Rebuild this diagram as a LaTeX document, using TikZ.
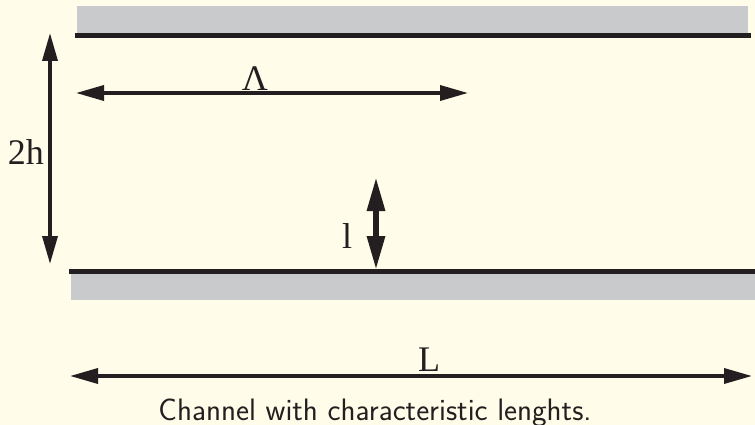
\documentclass[tikz,border=0pt]{standalone}
\usepackage{fontspec}
\newfontfamily\tms{Liberation Serif}
\usetikzlibrary{arrows.meta}
\definecolor{bg}{HTML}{FFFCE9}
\definecolor{bargray}{HTML}{C8CACC}
\definecolor{ink}{HTML}{231F20}
\tikzset{
  dimline/.style={draw=ink, line width=3.5pt, {Triangle[length=28pt,width=15pt]}-{Triangle[length=28pt,width=15pt]}},
  dimthick/.style={draw=ink, line width=6pt, {Triangle[length=34pt,width=17pt]}-{Triangle[length=34pt,width=17pt]}},
  wallfill/.style={fill=bargray, draw=none},
  wallline/.style={draw=ink, line width=5pt},
  lbltxt/.style={font=\tms\fontsize{36}{36}\selectfont, text=ink, inner sep=0pt},
  captxt/.style={font=\sffamily\fontsize{31}{31}\selectfont, text=ink, inner sep=0pt}
}
\begin{document}
\begin{tikzpicture}[x=1pt,y=-1pt]
\fill[bg] (0,0) rectangle (755,425);
\useasboundingbox (0,0) rectangle (755,425);
% walls
\path[wallfill] (77,6) rectangle (748,33);
\path[wallfill] (71,274) rectangle (755,300);
\coordinate (t1) at (75,35.5); \coordinate (t2) at (751,35.5);
\coordinate (b1) at (69,271.5); \coordinate (b2) at (755,271.5);
\draw[wallline] (t1) -- (t2);
\draw[wallline] (b1) -- (b2);
% 2h arrow
\coordinate (h1) at (50,33); \coordinate (h2) at (50,264);
\draw[dimline] (h1) -- (h2);
\node[lbltxt] (lh) at (26,152) {2h};
% Lambda arrow
\coordinate (a1) at (76,93); \coordinate (a2) at (468,93);
\draw[dimline] (a1) -- (a2);
\node[lbltxt, anchor=base] (la) at (255,91) {Λ};
% l arrow
\coordinate (s1) at (376,177); \coordinate (s2) at (376,270);
\draw[dimthick] (s1) -- (s2);
\node[lbltxt] (ll) at (347,236) {l};
% L arrow
\coordinate (c1) at (70,376); \coordinate (c2) at (752,376);
\draw[dimline] (c1) -- (c2);
\node[lbltxt, anchor=base] (lL) at (429,371) {L};
% caption
\node[captxt, anchor=base] (caption) at (375,420) {Channel with characteristic lenghts.};
\end{tikzpicture}
\end{document}
